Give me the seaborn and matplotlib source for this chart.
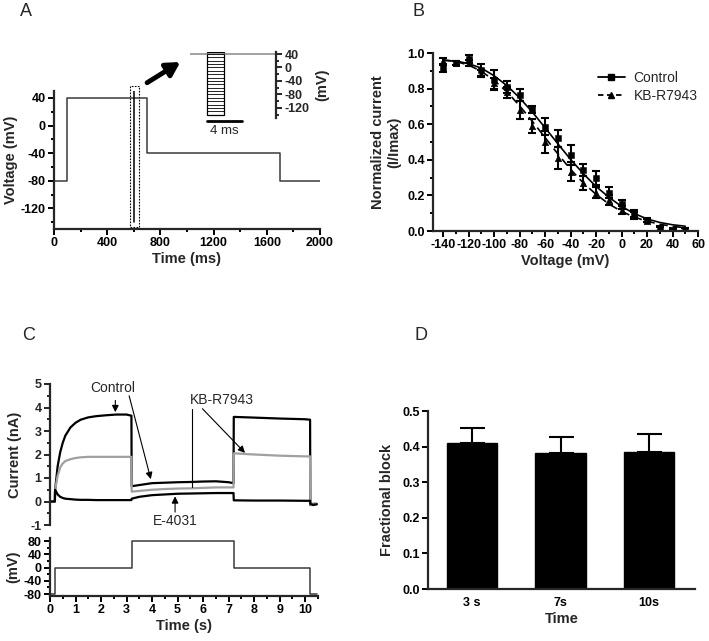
import numpy as np
import pandas as pd
import matplotlib
matplotlib.use("Agg")
import matplotlib.pyplot as plt
from matplotlib.patches import Rectangle
from matplotlib.ticker import MultipleLocator
import seaborn as sns

# -----------------------------
# A: voltage protocol (ms, mV)
# -----------------------------
a_time = [0, 100, 100, 700, 700, 1700, 1700, 2000]
a_volt = [-80, -80, 40, 40, -40, -40, -80, -80]
a_test_time = [600, 600]
a_test_volt = [-140, 50]
# inset: brief test steps
inset_steps = [40, 30, 20, 10, 0, -10, -20, -30, -40, -50, -60, -70,
               -80, -90, -100, -110, -120, -130, -140]

# -----------------------------
# B: steady-state curves
# -----------------------------
b_volt = [-140, -130, -120, -110, -100, -90, -80, -70, -60, -50,
          -40, -30, -20, -10, 0, 10, 20, 30, 40, 50]
b_ctrl = [0.915, 0.944, 0.966, 0.906, 0.85, 0.81, 0.765, 0.685, 0.587, 0.52,
          0.428, 0.343, 0.296, 0.216, 0.15, 0.10, 0.062, 0.015, 0.003, 0.008]
b_ctrl_err = [0.02, 0.01, 0.02, 0.035, 0.056, 0.035, 0.035, 0.02, 0.05, 0.05,
              0.055, 0.035, 0.04, 0.03, 0.025, 0.02, 0.01, 0.015, 0.01, 0.01]
b_kb = [0.955, 0.944, 0.944, 0.884, 0.83, 0.78, 0.68, 0.59, 0.50, 0.41,
        0.334, 0.268, 0.216, 0.174, 0.118, 0.085, 0.058, 0.01, 0.005, 0.005]
b_kb_err = [0.015, 0.01, 0.015, 0.02, 0.03, 0.03, 0.05, 0.04, 0.06, 0.06,
            0.055, 0.04, 0.03, 0.03, 0.02, 0.02, 0.01, 0.01, 0.01, 0.01]
b_ctrl_fit = [0.958, 0.955, 0.94, 0.915, 0.872, 0.817, 0.748, 0.668, 0.58, 0.49,
              0.402, 0.322, 0.25, 0.19, 0.138, 0.098, 0.068, 0.048, 0.035, 0.027]
b_kb_fit = [0.962, 0.952, 0.932, 0.897, 0.846, 0.782, 0.703, 0.616, 0.525, 0.433,
            0.346, 0.27, 0.206, 0.152, 0.11, 0.078, 0.055, 0.038, 0.026, 0.018]

# -----------------------------
# C: current traces (s, nA) and protocol (s, mV)
# -----------------------------
c_time = [0, 0.19, 0.2, 0.3, 0.4, 0.5, 0.6, 0.8, 1.0, 1.2, 1.5, 1.8, 2.2, 2.6,
          3.0, 3.19, 3.2, 3.5, 4.0, 4.5, 5.0, 5.5, 6.0, 6.5, 7.0, 7.19, 7.2,
          8.0, 9.0, 10.0, 10.19, 10.2, 10.3, 10.45]
c_ctrl = [0, 0, 0.5, 1.5, 2.1, 2.5, 2.8, 3.15, 3.35, 3.48, 3.58, 3.63, 3.67, 3.7,
          3.7, 3.65, 0.65, 0.7, 0.78, 0.8, 0.82, 0.83, 0.85, 0.86, 0.82, 0.78, 3.6,
          3.57, 3.53, 3.5, 3.48, -0.15, -0.1, -0.1]
c_kb = [0, 0, 0.5, 1.1, 1.45, 1.62, 1.72, 1.8, 1.85, 1.88, 1.9, 1.9, 1.9, 1.9,
        1.9, 1.9, 0.42, 0.45, 0.5, 0.53, 0.55, 0.56, 0.58, 0.6, 0.6, 0.6, 2.05,
        2.0, 1.95, 1.92, 1.92, -0.15, -0.12, -0.12]
c_e4031 = [0, 0, 0.5, 0.3, 0.2, 0.15, 0.12, 0.1, 0.08, 0.07, 0.07, 0.06, 0.06, 0.06,
           0.06, 0.06, 0.12, 0.2, 0.27, 0.3, 0.33, 0.34, 0.35, 0.36, 0.36, 0.36, 0.05,
           0.04, 0.04, 0.03, 0.03, -0.1, -0.15, -0.12]
c_step_time = [0, 0.2, 0.2, 3.2, 3.2, 7.2, 7.2, 10.2, 10.2, 10.45]
c_step_volt = [-80, -80, 0, 0, 80, 80, 0, 0, -80, -80]

# -----------------------------
# D: fractional block
# -----------------------------
d_labels = ["3 s", "7s", "10s"]
d_block = [0.409, 0.383, 0.386]
d_err = [0.044, 0.045, 0.05]

sns.set_style("ticks")
plt.rcParams['font.family'] = ['Liberation Sans', 'DejaVu Sans']
plt.rcParams['axes.unicode_minus'] = False
plt.rcParams['axes.linewidth'] = 1.6
plt.rcParams['xtick.major.width'] = 1.4
plt.rcParams['ytick.major.width'] = 1.4
plt.rcParams['xtick.minor.width'] = 1.4
plt.rcParams['ytick.minor.width'] = 1.4
plt.rcParams['xtick.major.size'] = 4
plt.rcParams['ytick.major.size'] = 4
plt.rcParams['xtick.minor.size'] = 2.5
plt.rcParams['ytick.minor.size'] = 2.5
plt.rcParams['xtick.major.pad'] = 2
plt.rcParams['ytick.major.pad'] = 2

TICK_FS = 9
LAB_FS = 10.5

W, H = 709, 641
fig = plt.figure(figsize=(W / 100, H / 100), dpi=100)


def px_axes(left, top, right, bottom):
    return fig.add_axes([left / W, 1 - bottom / H, (right - left) / W, (bottom - top) / H])


def style_ticks(ax):
    for lab in ax.get_xticklabels() + ax.get_yticklabels():
        lab.set_fontweight("bold")
        lab.set_fontsize(TICK_FS)


def prism(ax):
    sns.despine(ax=ax)
    ax.tick_params(which="both", direction="out", colors="black")


PROT = "#3a3a3a"

# ---------- A ----------
ax_a = px_axes(54, 91, 320, 229)
sns.lineplot(x=a_time, y=a_volt, ax=ax_a, color=PROT, lw=1.1, estimator=None, sort=False)
sns.lineplot(x=a_test_time, y=a_test_volt, ax=ax_a, color="black", lw=1.1, estimator=None, sort=False)
ax_a.add_patch(Rectangle((570, -147), 70, 204, fill=False, ls=(0, (1.5, 1.2)), lw=0.8,
                         ec="black", clip_on=False))
ax_a.set_xlim(0, 2000)
ax_a.set_ylim(-150, 50)
ax_a.xaxis.set_major_locator(MultipleLocator(400))
ax_a.xaxis.set_minor_locator(MultipleLocator(200))
ax_a.set_yticks([-120, -80, -40, 0, 40])
ax_a.yaxis.set_minor_locator(MultipleLocator(20))
prism(ax_a)
style_ticks(ax_a)
ax_a.set_xlabel("Time (ms)", fontsize=LAB_FS, fontweight="bold", labelpad=2)
ax_a.set_ylabel("Voltage (mV)", fontsize=LAB_FS, fontweight="bold", labelpad=2)
ax_a.annotate("", xy=(950, 92), xytext=(700, 62), xycoords="data",
              arrowprops=dict(arrowstyle="-|>,head_length=0.8,head_width=0.45", lw=3.5,
                              color="black", shrinkA=0, shrinkB=0),
              annotation_clip=False)

# inset
ax_i = px_axes(190, 52, 276, 118)
sns.lineplot(x=[0, 10], y=[40, 40], ax=ax_i, color="#888888", lw=1.1, estimator=None, sort=False)
for v in inset_steps:
    ax_i.plot([2, 4], [v, v], color="black", lw=0.6)
ax_i.add_patch(Rectangle((2, -140), 2, 185, fill=False, ec="black", lw=0.9))
ax_i.set_xlim(0, 10)
ax_i.set_ylim(-150, 46)
ax_i.set_xticks([])
ax_i.set_yticks([40, 0, -40, -80, -120])
ax_i.yaxis.set_minor_locator(MultipleLocator(20))
for s in ["left", "top", "bottom"]:
    ax_i.spines[s].set_visible(False)
ax_i.yaxis.tick_right()
ax_i.tick_params(which="both", direction="out")
style_ticks(ax_i)
ax_i.set_ylabel("(mV)", fontsize=LAB_FS, fontweight="bold", labelpad=4)
ax_i.yaxis.set_label_position("right")
ax_i.patch.set_alpha(0)
ax_i.plot([2, 6], [-160, -160], color="black", lw=2, clip_on=False)
ax_i.text(4, -172, "4 ms", ha="center", va="top", fontsize=9.5)

# ---------- B ----------
ax_b = px_axes(433, 53, 698, 231)
sns.lineplot(x=b_volt, y=b_ctrl_fit, ax=ax_b, color="black", lw=1.2, estimator=None, sort=False)
sns.lineplot(x=b_volt, y=b_kb_fit, ax=ax_b, color="black", lw=1.2, ls=(0, (5, 3)),
             estimator=None, sort=False)
ax_b.errorbar(b_volt, b_ctrl, yerr=b_ctrl_err, fmt="none", ecolor="black", elinewidth=1.5,
              capsize=3, capthick=1.5)
ax_b.errorbar(b_volt, b_kb, yerr=b_kb_err, fmt="none", ecolor="black", elinewidth=1.5,
              capsize=3, capthick=1.5)
sns.scatterplot(x=b_volt, y=b_ctrl, ax=ax_b, marker="s", s=22, color="black", edgecolor="black")
sns.scatterplot(x=b_volt, y=b_kb, ax=ax_b, marker="^", s=22, color="black", edgecolor="black")
ax_b.set_xlim(-148, 60)
ax_b.set_ylim(0, 1.0)
ax_b.xaxis.set_major_locator(MultipleLocator(20))
ax_b.xaxis.set_minor_locator(MultipleLocator(10))
ax_b.yaxis.set_major_locator(MultipleLocator(0.2))
ax_b.yaxis.set_minor_locator(MultipleLocator(0.1))
ax_b.set_xticks([-140, -120, -100, -80, -60, -40, -20, 0, 20, 40, 60])
prism(ax_b)
style_ticks(ax_b)
ax_b.set_yticklabels([f"{t:.1f}" for t in ax_b.get_yticks()], fontweight="bold", fontsize=TICK_FS)
ax_b.set_xlabel("Voltage (mV)", fontsize=LAB_FS, fontweight="bold", labelpad=2)
ax_b.set_ylabel("Normalized current\n(I/Imax)", fontsize=LAB_FS, fontweight="bold", labelpad=4)
h1, = ax_b.plot([], [], color="black", lw=1.3, marker="s", ms=4.5)
h2, = ax_b.plot([], [], color="black", lw=1.3, ls=(0, (3, 2)), marker="^", ms=4.5)
ax_b.legend([h1, h2], ["Control", "KB-R7943"], loc="upper left",
            bbox_to_anchor=(0.6, 0.93), frameon=False, fontsize=10, handlelength=2.0,
            handletextpad=0.6, labelspacing=0.3, borderaxespad=0)

# ---------- C (currents) ----------
ax_c = px_axes(50, 384, 318, 525)
sns.lineplot(x=c_time, y=c_ctrl, ax=ax_c, color="black", lw=1.6, estimator=None, sort=False)
sns.lineplot(x=c_time, y=c_kb, ax=ax_c, color="#a0a0a0", lw=1.6, estimator=None, sort=False)
sns.lineplot(x=c_time, y=c_e4031, ax=ax_c, color="black", lw=1.6, estimator=None, sort=False)
ax_c.set_xlim(0, 10.5)
ax_c.set_ylim(-1, 5)
ax_c.set_yticks([-1, 0, 1, 2, 3, 4, 5])
ax_c.yaxis.set_minor_locator(MultipleLocator(0.5))
sns.despine(ax=ax_c, bottom=True)
ax_c.set_xticks([])
ax_c.tick_params(which="both", direction="out")
style_ticks(ax_c)
ax_c.set_ylabel("Current (nA)", fontsize=LAB_FS, fontweight="bold", labelpad=6)
arr = dict(arrowstyle="-|>,head_length=0.4,head_width=0.2", lw=0.8, color="black",
           shrinkA=0, shrinkB=0)
ax_c.text(2.45, 4.85, "Control", ha="center", va="center", fontsize=10)
ax_c.annotate("", xy=(2.56, 3.8), xytext=(2.56, 4.3), arrowprops=arr)
ax_c.annotate("", xy=(3.95, 0.95), xytext=(3.1, 4.5), arrowprops=arr)
ax_c.text(6.74, 4.3, "KB-R7943", ha="center", va="center", fontsize=10)
ax_c.plot([5.58, 5.58], [0.62, 3.95], color="black", lw=0.8)
ax_c.annotate("", xy=(7.64, 2.07), xytext=(5.97, 3.95), arrowprops=arr)
ax_c.text(4.9, -0.85, "E-4031", ha="center", va="center", fontsize=10)
ax_c.annotate("", xy=(4.9, 0.22), xytext=(4.9, -0.45), arrowprops=arr)

# ---------- C (protocol) ----------
ax_p = px_axes(50, 538, 318, 596)
sns.lineplot(x=c_step_time, y=c_step_volt, ax=ax_p, color=PROT, lw=1.1, estimator=None, sort=False)
ax_p.set_xlim(0, 10.5)
ax_p.set_ylim(-86, 90)
ax_p.set_yticks([-80, -40, 0, 40, 80])
ax_p.yaxis.set_minor_locator(MultipleLocator(20))
ax_p.set_xticks(range(0, 11))
ax_p.xaxis.set_minor_locator(MultipleLocator(0.5))
prism(ax_p)
style_ticks(ax_p)
ax_p.set_xlabel("Time (s)", fontsize=LAB_FS, fontweight="bold", labelpad=2)
ax_p.set_ylabel("(mV)", fontsize=LAB_FS, fontweight="bold", labelpad=2)

# ---------- D ----------
ax_d = px_axes(428, 411, 695, 589)
df_d = pd.DataFrame({"time": d_labels, "block": d_block})
sns.barplot(data=df_d, x="time", y="block", ax=ax_d, color="black", width=0.57,
            errorbar=None, edgecolor="black")
ax_d.errorbar(range(len(d_block)), d_block, yerr=[[0] * len(d_err), d_err], fmt="none",
              ecolor="black", elinewidth=1.5, capsize=9, capthick=1.5)
ax_d.set_xlim(-0.5, 2.52)
ax_d.set_ylim(0, 0.5)
ax_d.set_yticks([0, 0.1, 0.2, 0.3, 0.4, 0.5])
ax_d.set_yticklabels(["0.0", "0.1", "0.2", "0.3", "0.4", "0.5"])
prism(ax_d)
ax_d.tick_params(axis="x", length=0, pad=6)
style_ticks(ax_d)
ax_d.set_xlabel("Time", fontsize=LAB_FS, fontweight="bold", labelpad=2)
ax_d.set_ylabel("Fractional block", fontsize=LAB_FS, fontweight="bold", labelpad=6)

# panel letters
for lab, x, y in [("A", 20, 12), ("B", 412, 12), ("C", 22, 336), ("D", 415, 336)]:
    fig.text(x / W, 1 - y / H, lab, fontsize=13, ha="left", va="center")

fig.savefig("out.png", dpi=100)
